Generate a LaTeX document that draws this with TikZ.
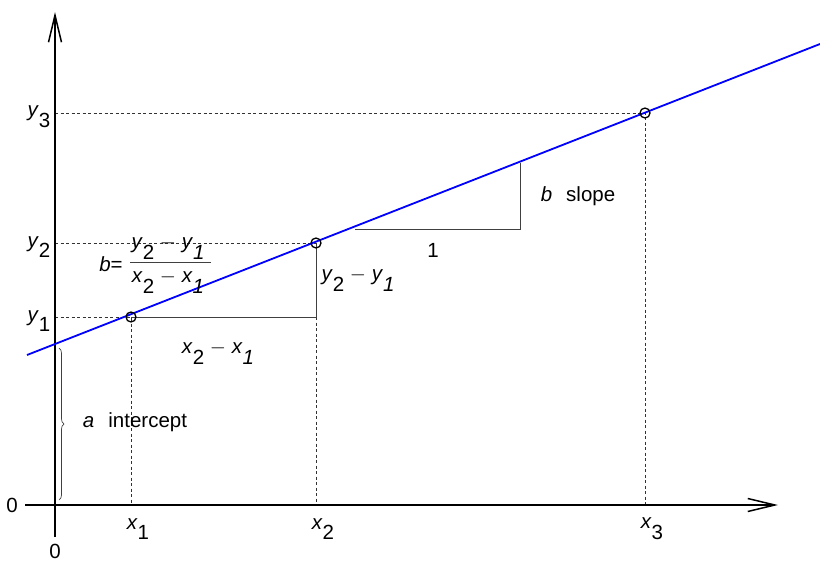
\documentclass[tikz,border=0pt]{standalone}
\usepackage{fontspec}
\setmainfont{Liberation Sans}
\usetikzlibrary{arrows.meta,decorations.pathreplacing}
\newcommand{\vs}[2]{\textit{#1}\raisebox{-1.0ex}{#2}}
\newcommand{\vsi}[2]{\textit{#1}\raisebox{-1.0ex}{\textit{#2}}}
\begin{document}
\begin{tikzpicture}[x=1pt,y=-1pt,
  axis/.style={line width=1.5pt,-{Straight Barb[length=27pt,width=13pt,line width=1.5pt]}},
  guide/.style={dashed,line width=0.7pt,dash pattern=on 3pt off 2.5pt,black!80},
  thin/.style={line width=0.8pt,black!75},
  fit/.style={blue,line width=1.8pt},
  pt/.style={circle,draw,line width=1.3pt,inner sep=0pt,minimum size=10pt},
  lbl/.style={font=\fontsize{20.5}{23}\selectfont,inner sep=0pt}]
\useasboundingbox (0,0) rectangle (820,562);
% reference coordinates
\coordinate (o) at (55,505);
\coordinate (xend) at (778,505);
\coordinate (xstart) at (25,505);
\coordinate (ytop) at (55,12);
\coordinate (ybot) at (55,537);
\coordinate (y3a) at (55,113);
\coordinate (y2a) at (55,243);
\coordinate (y1a) at (55,317);
\coordinate (x1a) at (131,505);
\coordinate (x2a) at (316,505);
\coordinate (x3a) at (645,505);
\coordinate (q1) at (131,317);
\coordinate (q2) at (316,243);
\coordinate (q3) at (645,113);
\coordinate (corner) at (316,317);
\coordinate (lstart) at (27,355);
\coordinate (lend) at (820,44);
\coordinate (s1) at (355,229);
\coordinate (s2) at (520,229);
\coordinate (s3) at (520,163);
\coordinate (ba) at (59,500);
\coordinate (bb) at (59,348);
% guides
\draw[guide] (y3a) -- (q3) -- (x3a);
\draw[guide] (y2a) -- (q2);
\draw[guide] (y1a) -- (q1) -- (x1a);
\draw[guide] (corner) -- (x2a);
% triangles
\draw[thin] (q1) -- (corner) -- (q2);
\draw[thin] (s1) -- (s2) -- (s3);
% axes
\draw[axis] (xstart) -- (xend);
\draw[axis] (ybot) -- (ytop);
% fitted line
\draw[fit] (lstart) -- (lend);
\node[pt] (p1) at (q1) {};
\node[pt] (p2) at (q2) {};
\node[pt] (p3) at (q3) {};
% brace
\draw[thin,line width=0.7pt,decorate,decoration={brace,amplitude=5pt}] (bb) -- (ba);
% labels
\node[lbl] (zl) at (12,505) {0};
\node[lbl] (zb) at (55,551) {0};
\node[lbl] (ly3) at (39,117) {\vs{y}{3}};
\node[lbl] (ly2) at (39,247) {\vs{y}{2}};
\node[lbl] (ly1) at (39,321) {\vs{y}{1}};
\node[lbl] (lx1) at (138,529) {\vs{x}{1}};
\node[lbl] (lx2) at (323,529) {\vs{x}{2}};
\node[lbl] (lx3) at (652,529) {\vs{x}{3}};
\node[lbl] (lint) at (135,422) {\textit{a}\hspace{14pt}intercept};
\node[lbl] (lslope) at (578,196) {\textit{b}\hspace{14pt}slope};
\node[lbl] (lone) at (433,250) {1};
\node[lbl] (ldy) at (358,280) {\vs{y}{2} $-$ \vsi{y}{1}};
\node[lbl] (ldx) at (218,353) {\vs{x}{2} $-$ \vsi{x}{1}};
\node[lbl] (lb) at (111,264) {\textit{b}=};
\node[lbl] (lnum) at (168,248) {\vs{y}{2} $-$ \vsi{y}{1}};
\node[lbl] (lden) at (168,282) {\vs{x}{2} $-$ \vsi{x}{1}};
\coordinate (fb1) at (130,262);
\coordinate (fb2) at (211,262);
\draw[thin,line width=0.6pt] (fb1) -- (fb2);
\end{tikzpicture}
\end{document}
